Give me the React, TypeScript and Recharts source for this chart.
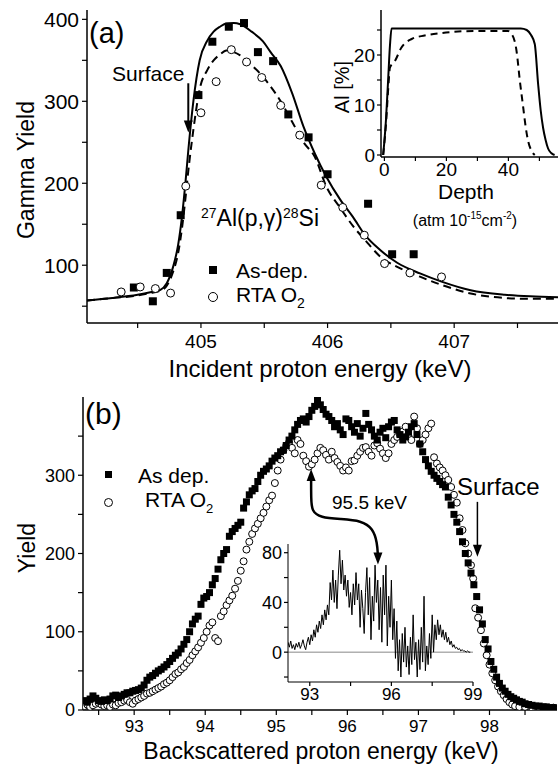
import {
  ComposedChart,
  Line,
  Scatter,
  XAxis,
  YAxis,
  ReferenceLine,
  ReferenceDot,
} from 'recharts';

const FONT = '"Liberation Sans", Arial, Helvetica, sans-serif';

// ---- (a) 27Al(p,g)28Si resonance yield ----
const fitEnergy = [404.1, 404.3, 404.5, 404.6, 404.68, 404.73, 404.78, 404.82, 404.85, 404.88, 404.9, 404.94, 404.99, 405.05, 405.1, 405.15, 405.2, 405.26, 405.31, 405.4, 405.49, 405.55, 405.63, 405.72, 405.81, 405.9, 405.99, 406.1, 406.2, 406.3, 406.42, 406.55, 406.73, 406.9, 407.13, 407.4, 407.6, 407.82];
const fitAsDep = [57, 60, 64, 67, 70, 78, 98, 125, 159, 205, 240, 300, 350, 374, 385, 391, 395, 395.5, 394, 385, 373, 360, 343, 310, 269, 236, 208, 180, 159, 136, 118, 103, 90, 80, 69.5, 64, 62, 61];
const fitRta = [57, 60, 63, 66, 69, 75, 92, 115, 145, 185, 215, 265, 315, 338, 350, 357, 362, 360, 356, 344, 330, 318, 300, 275, 250, 232, 196, 170, 148, 130, 110, 98, 86, 76, 65.5, 60, 59, 59];

const asDepPoints: [number, number][] = [
  [404.47, 72.8], [404.62, 56], [404.73, 90.6], [404.84, 161], [404.98, 307.6], [405.09, 372.7],
  [405.22, 391], [405.34, 395.5], [405.45, 360], [405.57, 349], [405.69, 284], [405.85, 256],
  [406.0, 211], [406.32, 175], [406.51, 113.4], [406.68, 113.4],
];
const rtaPoints: [number, number][] = [
  [404.37, 67.4], [404.52, 73.5], [404.64, 71.5], [404.76, 66], [404.88, 196.5], [405.0, 286],
  [405.12, 324], [405.24, 363], [405.36, 348], [405.48, 329], [405.63, 295], [405.78, 258.7],
  [405.95, 197.7], [406.12, 170.5], [406.29, 136.6], [406.45, 102], [406.65, 90.6], [406.9, 85.7],
];

// inset: Al depth profiles
const depthSolid = [-0.4, 0.5, 1.2, 1.8, 2.3, 5, 15, 25, 35, 44, 45.9, 47.3, 48.5, 49.6, 50.4, 51.2, 52, 52.8, 53.8, 54.9];
const alSolid = [0, 7, 15, 22, 25.3, 25.3, 25.3, 25.3, 25.3, 25.3, 25, 24, 22.2, 14.1, 9, 5.4, 3, 1.3, 0.4, 0];
const depthDashed = [-0.4, 0.6, 1.2, 1.8, 3.4, 5.5, 8.8, 13, 18.5, 29.2, 39.9, 41, 42, 42.6, 43.7, 44.8, 45.6, 46.4, 47.5, 48.5];
const alDashed = [0, 7, 13, 17.5, 18.8, 21.5, 23.2, 23.9, 24.4, 24.8, 24.8, 24.2, 22.8, 20.9, 14.8, 9.4, 5.5, 2.7, 0.8, 0];

// ---- (b) RBS spectra ----
const rbsAsDep: [number, number][] = [
  [92.3, 12], [92.34, 10], [92.38, 14], [92.42, 18], [92.46, 15], [92.5, 12], [92.54, 11], [92.58, 13],
  [92.62, 12], [92.66, 14], [92.7, 18], [92.74, 19], [92.78, 16], [92.82, 18], [92.86, 20], [92.9, 22],
  [92.94, 22], [92.98, 24], [93.02, 25], [93.06, 26], [93.1, 28], [93.14, 32], [93.18, 38], [93.22, 42],
  [93.26, 44], [93.3, 47], [93.34, 50], [93.38, 52], [93.42, 55], [93.46, 58], [93.5, 62], [93.54, 66],
  [93.58, 70], [93.62, 73], [93.66, 78], [93.7, 84], [93.74, 90], [93.78, 100], [93.82, 110], [93.86, 116],
  [93.9, 120], [93.94, 135], [93.98, 143], [94.02, 145], [94.06, 150], [94.1, 160], [94.14, 168], [94.18, 180],
  [94.22, 192], [94.26, 200], [94.3, 205], [94.34, 222], [94.38, 228], [94.42, 232], [94.46, 236], [94.5, 240],
  [94.54, 258], [94.58, 266], [94.62, 275], [94.66, 280], [94.7, 283], [94.74, 292], [94.78, 300], [94.82, 305],
  [94.86, 308], [94.9, 312], [94.94, 318], [94.98, 322], [95.02, 325], [95.06, 330], [95.1, 332], [95.14, 338],
  [95.18, 345], [95.22, 350], [95.26, 358], [95.3, 365], [95.34, 370], [95.38, 372], [95.42, 368], [95.46, 375],
  [95.5, 383], [95.54, 388], [95.58, 396], [95.62, 390], [95.66, 384], [95.7, 378], [95.74, 375], [95.78, 370],
  [95.82, 362], [95.86, 366], [95.9, 358], [95.94, 352], [95.98, 372], [96.02, 370], [96.06, 362], [96.1, 355],
  [96.14, 366], [96.18, 350], [96.22, 360], [96.26, 379], [96.3, 365], [96.34, 358], [96.38, 350], [96.42, 345],
  [96.46, 355], [96.5, 360], [96.54, 348], [96.58, 362], [96.62, 368], [96.66, 370], [96.7, 358], [96.74, 352],
  [96.78, 345], [96.82, 349], [96.86, 355], [96.9, 362], [96.94, 366], [96.98, 352], [97.02, 340], [97.06, 330],
  [97.1, 320], [97.14, 312], [97.18, 305], [97.22, 300], [97.26, 296], [97.3, 292], [97.34, 288], [97.38, 285],
  [97.42, 272], [97.46, 262], [97.5, 250], [97.54, 240], [97.58, 228], [97.62, 215], [97.66, 200], [97.7, 188],
  [97.74, 175], [97.78, 160], [97.82, 145], [97.86, 128], [97.9, 110], [97.94, 90], [97.98, 78], [98.02, 62],
  [98.06, 52], [98.1, 42], [98.14, 34], [98.18, 28], [98.22, 24], [98.26, 20], [98.3, 17], [98.34, 15],
  [98.38, 13], [98.42, 11], [98.46, 10], [98.5, 8], [98.55, 7], [98.6, 6], [98.65, 5], [98.7, 5],
  [98.75, 4], [98.8, 4], [98.85, 3], [98.9, 3],
];
const rbsRta: [number, number][] = [
  [92.3, 5], [92.34, 7], [92.38, 4], [92.42, 6], [92.46, 8], [92.5, 9], [92.54, 7], [92.58, 5],
  [92.62, 6], [92.66, 4], [92.7, 7], [92.74, 6], [92.78, 9], [92.82, 10], [92.86, 12], [92.9, 13],
  [92.94, 10], [92.98, 8], [93.02, 12], [93.06, 14], [93.1, 16], [93.14, 18], [93.18, 21], [93.22, 22],
  [93.26, 24], [93.3, 26], [93.34, 28], [93.38, 30], [93.42, 33], [93.46, 35], [93.5, 38], [93.54, 42],
  [93.58, 46], [93.62, 48], [93.66, 52], [93.7, 55], [93.74, 60], [93.78, 64], [93.82, 70], [93.86, 75],
  [93.9, 80], [93.94, 86], [93.98, 92], [94.02, 100], [94.06, 108], [94.1, 112], [94.14, 92], [94.18, 88],
  [94.22, 120], [94.26, 126], [94.3, 134], [94.34, 140], [94.38, 146], [94.42, 155], [94.46, 165], [94.5, 178],
  [94.54, 190], [94.58, 205], [94.62, 215], [94.66, 225], [94.7, 232], [94.74, 238], [94.78, 245], [94.82, 252],
  [94.86, 260], [94.9, 268], [94.94, 274], [94.98, 290], [95.02, 306], [95.06, 320], [95.1, 332], [95.14, 338],
  [95.18, 342], [95.22, 335], [95.26, 328], [95.3, 345], [95.34, 340], [95.38, 325], [95.42, 318], [95.46, 311],
  [95.5, 314], [95.54, 320], [95.58, 328], [95.62, 335], [95.66, 332], [95.7, 326], [95.74, 320], [95.78, 330],
  [95.82, 322], [95.86, 317], [95.9, 312], [95.94, 306], [95.98, 310], [96.02, 306], [96.06, 318], [96.1, 319],
  [96.14, 325], [96.18, 330], [96.22, 335], [96.26, 336], [96.3, 330], [96.34, 325], [96.38, 338], [96.42, 341],
  [96.46, 334], [96.5, 328], [96.54, 322], [96.58, 328], [96.62, 340], [96.66, 345], [96.7, 349], [96.74, 352],
  [96.78, 356], [96.82, 362], [96.86, 350], [96.9, 345], [96.94, 375], [96.98, 360], [97.02, 340], [97.06, 345],
  [97.1, 352], [97.14, 360], [97.18, 366], [97.22, 323], [97.26, 315], [97.3, 310], [97.34, 306], [97.38, 300],
  [97.42, 294], [97.46, 285], [97.5, 275], [97.54, 265], [97.58, 245], [97.62, 230], [97.66, 213], [97.7, 200],
  [97.74, 185], [97.77, 168], [97.8, 130], [97.84, 118], [97.88, 102], [97.92, 85], [97.96, 70], [98.0, 58],
  [98.04, 47], [98.08, 38], [98.12, 30], [98.16, 24], [98.2, 19], [98.24, 14], [98.28, 10], [98.32, 7],
  [98.36, 5], [98.42, 4], [98.5, 4], [98.6, 3], [98.7, 3], [98.8, 3], [98.9, 3],
];

// inset: difference spectrum
const diffEnergy = [
  92.2, 92.25, 92.3, 92.35, 92.4, 92.45, 92.5, 92.55, 92.6, 92.65, 92.7, 92.75, 92.8, 92.85, 92.9, 92.95,
  93.0, 93.05, 93.1, 93.15, 93.2, 93.25, 93.3, 93.35, 93.4, 93.45, 93.5, 93.55, 93.6, 93.65, 93.7, 93.75,
  93.8, 93.85, 93.9, 93.95, 94.0, 94.05, 94.1, 94.15, 94.2, 94.25, 94.3, 94.35, 94.4, 94.45, 94.5, 94.55,
  94.6, 94.65, 94.7, 94.75, 94.8, 94.85, 94.9, 94.95, 95.0, 95.05, 95.1, 95.15, 95.2, 95.25, 95.3, 95.35,
  95.4, 95.45, 95.5, 95.55, 95.6, 95.65, 95.7, 95.75, 95.8, 95.85, 95.9, 95.95, 96.0, 96.05, 96.1, 96.15,
  96.2, 96.25, 96.3, 96.35, 96.4, 96.45, 96.5, 96.55, 96.6, 96.65, 96.7, 96.75, 96.8, 96.85, 96.9, 96.95,
  97.0, 97.05, 97.1, 97.15, 97.2, 97.25, 97.3, 97.35, 97.4, 97.45, 97.5, 97.55, 97.6, 97.65, 97.7, 97.75,
  97.8, 97.85, 97.9, 97.95, 98.0, 98.05, 98.1, 98.15, 98.2, 98.25, 98.3, 98.35, 98.4, 98.45, 98.5, 98.55,
  98.6, 98.65, 98.7, 98.75, 98.8, 98.85, 98.9,
];
const diffYield = [
  8, 4, 9, 3, 6, 2, 7, 4, 8, 3, 6, 10, 5, 2, 8, 12,
  6, 14, 9, 18, 12, 22, 16, 25, 19, 30, 22, 34, 26, 38, 30, 56,
  42, 66, 40, 58, 35, 62, 82, 55, 74, 50, 62, 45, 58, 36, 48, 30,
  55, 38, 64, 42, 55, 20, 50, 35, 15, 48, 68, 30, 60, 10, 45, 25,
  70, 40, 58, 18, 52, 8, 62, 30, 70, 5, 45, 20, 58, 10, 35, -5,
  25, -15, 10, -20, 15, -8, 20, -12, 5, -18, 12, -10, 30, -6, 8, -20,
  10, -14, 20, -8, 45, -15, 5, -10, 15, -5, 30, 0, 22, 10, 26, 14,
  22, 12, 18, 10, 16, 8, 12, 6, 9, 4, 6, 3, 4, 2, 3, 1,
  2, 1, 1, 0, 1, 0, 0,
];

// annotation: curved "95.5 keV" arrow path in (b) data coordinates
const arrowPath: [number, number][] = [
  [95.49, 298], [95.49, 270], [95.5, 254], [95.62, 246], [95.9, 244], [96.2, 242], [96.36, 232], [96.42, 214], [96.43, 197],
];

const toXY = (pts: [number, number][]) => pts.map(([x, y]) => ({ x, y }));
const zip = (xs: number[], ys: number[]) => xs.map((x, i) => ({ x, y: ys[i] }));

const fitAsDepData = zip(fitEnergy, fitAsDep);
const fitRtaData = zip(fitEnergy, fitRta);
const solidProfile = zip(depthSolid, alSolid);
const dashedProfile = zip(depthDashed, alDashed);
const diffData = zip(diffEnergy, diffYield);

const squareShape = (s: number) => (p: any) => (
  <rect x={p.cx - s / 2} y={p.cy - s / 2} width={s} height={s} fill="#000" />
);
const circleShape = (r: number) => (p: any) => (
  <circle cx={p.cx} cy={p.cy} r={r} fill="#fff" stroke="#000" strokeWidth={1} />
);
const headDown = (p: any) => (
  <path d={`M${p.cx},${p.cy} l-4.5,-12 l9,0 z`} fill="#000" />
);
const headUp = (p: any) => (
  <path d={`M${p.cx},${p.cy} l-4.5,12 l9,0 z`} fill="#000" />
);

const fmt = (labels: number[]) => (v: number) => (labels.includes(v) ? String(v) : '');
const axisLine = { stroke: '#000', strokeWidth: 1.5 };
const tickLine = { stroke: '#000', strokeWidth: 1.2 };

const abs = (left: number, top: number, extra: any = {}) => ({
  position: 'absolute' as const, left, top, fontFamily: FONT, color: '#000', lineHeight: 1, whiteSpace: 'nowrap' as const, ...extra,
});

export default function App() {
  return (
    <div style={{ position: 'fixed', left: 0, top: 0, width: 559, height: 764, background: '#fff', overflow: 'hidden' }}>
      {/* panel (a) */}
      <div style={{ position: 'absolute', left: 0, top: 0 }}>
        <ComposedChart width={559} height={358} margin={{ top: 10, right: 1, bottom: 0, left: 0 }}>
          <XAxis
            dataKey="x" type="number" domain={[404.1, 407.82]} allowDataOverflow
            ticks={[404.5, 405, 405.5, 406, 406.5, 407, 407.5]} interval={0}
            tickFormatter={fmt([405, 406, 407])} height={35} tickSize={5} tickMargin={7}
            axisLine={axisLine} tickLine={tickLine}
            tick={{ fill: '#000', fontSize: 19, fontFamily: FONT }}
          />
          <XAxis xAxisId="top" orientation="top" type="number" domain={[404.1, 407.82]} height={0} tick={false} tickLine={false} axisLine={axisLine} />
          <YAxis
            type="number" domain={[29.5, 411.4]} allowDataOverflow
            ticks={[50, 100, 150, 200, 250, 300, 350, 400]} interval={0}
            tickFormatter={fmt([100, 200, 300, 400])} width={87} tickSize={5} tickMargin={3}
            axisLine={axisLine} tickLine={tickLine}
            tick={{ fill: '#000', fontSize: 21, fontFamily: FONT }}
          />
          <YAxis yAxisId="right" orientation="right" type="number" domain={[0, 1]} width={0} tick={false} tickLine={false} axisLine={axisLine} />
          <Line data={fitAsDepData} dataKey="y" type="monotone" stroke="#000" strokeWidth={2} dot={false} isAnimationActive={false} />
          <Line data={fitRtaData} dataKey="y" type="monotone" stroke="#000" strokeWidth={2} strokeDasharray="8 5" dot={false} isAnimationActive={false} />
          <Scatter data={toXY(asDepPoints)} dataKey="y" shape={squareShape(8)} isAnimationActive={false} />
          <Scatter data={toXY(rtaPoints)} dataKey="y" shape={circleShape(4)} isAnimationActive={false} />
          <ReferenceLine segment={[{ x: 404.9, y: 322 }, { x: 404.9, y: 272 }]} stroke="#000" strokeWidth={2} />
          <ReferenceDot x={404.9} y={262} r={0} shape={headDown} />
        </ComposedChart>
      </div>

      {/* panel (a) inset */}
      <div style={{ position: 'absolute', left: 340, top: 0 }}>
        <ComposedChart width={219} height={200} margin={{ top: 10, right: 1, bottom: 0, left: 0 }}>
          <XAxis
            dataKey="x" type="number" domain={[-1.1, 56]} allowDataOverflow
            ticks={[0, 10, 20, 30, 40, 50]} interval={0} tickFormatter={fmt([0, 20, 40])}
            height={43} tickSize={4} tickMargin={2} axisLine={axisLine} tickLine={tickLine}
            tick={{ fill: '#000', fontSize: 19, fontFamily: FONT }}
          />
          <YAxis
            type="number" domain={[-0.4, 29]} allowDataOverflow
            ticks={[0, 5, 10, 15, 20, 25]} interval={0} tickFormatter={fmt([0, 10, 20])}
            width={41} tickSize={4} tickMargin={2} axisLine={axisLine} tickLine={tickLine}
            tick={{ fill: '#000', fontSize: 19, fontFamily: FONT }}
          />
          <Line data={solidProfile} dataKey="y" type="monotone" stroke="#000" strokeWidth={2} dot={false} isAnimationActive={false} />
          <Line data={dashedProfile} dataKey="y" type="monotone" stroke="#000" strokeWidth={2} strokeDasharray="7 5" dot={false} isAnimationActive={false} />
        </ComposedChart>
      </div>

      {/* panel (b) */}
      <div style={{ position: 'absolute', left: 0, top: 380 }}>
        <ComposedChart width={559} height={360} margin={{ top: 17, right: 2, bottom: 0, left: 0 }}>
          <XAxis
            dataKey="x" type="number" domain={[92.28, 98.95]} allowDataOverflow
            ticks={[92.5, 93, 93.5, 94, 94.5, 95, 95.5, 96, 96.5, 97, 97.5, 98, 98.5]} interval={0}
            tickFormatter={fmt([93, 94, 95, 96, 97, 98])} height={30} tickSize={5} tickMargin={5}
            axisLine={axisLine} tickLine={tickLine}
            tick={{ fill: '#000', fontSize: 17, fontFamily: FONT }}
          />
          <XAxis xAxisId="top" orientation="top" type="number" domain={[92.28, 98.95]} height={0} tick={false} tickLine={false} axisLine={axisLine} />
          <YAxis
            type="number" domain={[0, 400]} allowDataOverflow
            ticks={[0, 50, 100, 150, 200, 250, 300, 350]} interval={0}
            tickFormatter={fmt([0, 100, 200, 300])} width={83} tickSize={5} tickMargin={3}
            axisLine={axisLine} tickLine={tickLine}
            tick={{ fill: '#000', fontSize: 18, fontFamily: FONT }}
          />
          <YAxis yAxisId="right" orientation="right" type="number" domain={[0, 1]} width={0} tick={false} tickLine={false} axisLine={axisLine} />
          <Scatter data={toXY(rbsRta)} dataKey="y" shape={circleShape(3.5)} isAnimationActive={false} />
          <Scatter data={toXY(rbsAsDep)} dataKey="y" shape={squareShape(7)} isAnimationActive={false} />
          <Line data={toXY(arrowPath)} dataKey="y" type="basis" stroke="#000" strokeWidth={2.5} dot={false} isAnimationActive={false} />
          <ReferenceDot x={95.49} y={308} r={0} shape={headUp} />
          <ReferenceDot x={96.43} y={186} r={0} shape={headDown} />
          <ReferenceLine segment={[{ x: 97.83, y: 266 }, { x: 97.83, y: 208 }]} stroke="#000" strokeWidth={1.5} />
          <ReferenceDot x={97.83} y={196} r={0} shape={headDown} />
        </ComposedChart>
      </div>

      {/* panel (b) inset */}
      <div style={{ position: 'absolute', left: 240, top: 530 }}>
        <ComposedChart width={255} height={180} margin={{ top: 14, right: 22, bottom: 0, left: 0 }}>
          <XAxis
            dataKey="x" type="number" domain={[92.2, 99]} allowDataOverflow
            ticks={[93, 94.5, 96, 97.5, 99]} interval={0} tickFormatter={fmt([93, 96, 99])}
            height={28} tickSize={4} tickMargin={2} axisLine={{ stroke: '#000', strokeWidth: 1 }} tickLine={tickLine}
            tick={{ fill: '#000', fontSize: 17, fontFamily: FONT }}
          />
          <YAxis
            type="number" domain={[-24, 87]} allowDataOverflow
            ticks={[-20, 0, 20, 40, 60, 80]} interval={0} tickFormatter={fmt([0, 40, 80])}
            width={48} tickSize={4} tickMargin={2} axisLine={{ stroke: '#000', strokeWidth: 1 }} tickLine={tickLine}
            tick={{ fill: '#000', fontSize: 18, fontFamily: FONT }}
          />
          <ReferenceLine y={0} stroke="#888" strokeWidth={1} />
          <Line data={diffData} dataKey="y" type="linear" stroke="#000" strokeWidth={1} dot={false} isAnimationActive={false} />
        </ComposedChart>
      </div>

      {/* texts (a) */}
      <div style={abs(89, 19, { fontSize: 29 })}>(a)</div>
      <div style={abs(112, 63, { fontSize: 21 })}>Surface</div>
      <div style={abs(26, 170, { fontSize: 23, transform: 'translate(-50%,-50%) rotate(-90deg)' })}>Gamma Yield</div>
      <div style={abs(320, 369, { fontSize: 24, transform: 'translate(-50%,-50%)' })}>Incident proton energy (keV)</div>
      <div style={abs(260, 218, { fontSize: 23, transform: 'translate(-50%,-50%)' })}>
        <sup style={{ fontSize: 14 }}>27</sup>Al(p,γ)<sup style={{ fontSize: 14 }}>28</sup>Si
      </div>
      <div style={abs(209, 266, { width: 8, height: 8, background: '#000' })} />
      <div style={abs(236, 270, { fontSize: 21, transform: 'translateY(-50%)' })}>As-dep.</div>
      <div style={abs(208, 292, { width: 8, height: 8, border: '1px solid #000', borderRadius: '50%' })} />
      <div style={abs(236, 297, { fontSize: 21, transform: 'translateY(-50%)' })}>
        RTA O<sub style={{ fontSize: 14 }}>2</sub>
      </div>
      <div style={abs(342, 87, { fontSize: 20, transform: 'translate(-50%,-50%) rotate(-90deg)' })}>Al [%]</div>
      <div style={abs(466, 191, { fontSize: 21, transform: 'translate(-50%,-50%)' })}>Depth</div>
      <div style={abs(465, 220, { fontSize: 16, transform: 'translate(-50%,-50%)' })}>
        (atm 10<sup style={{ fontSize: 10 }}>-15</sup>cm<sup style={{ fontSize: 10 }}>-2</sup>)
      </div>

      {/* texts (b) */}
      <div style={abs(85, 399, { fontSize: 30 })}>(b)</div>
      <div style={abs(105, 471, { width: 7, height: 7, background: '#000' })} />
      <div style={abs(138, 475, { fontSize: 21, transform: 'translateY(-50%)' })}>As dep.</div>
      <div style={abs(104, 498, { width: 7, height: 7, border: '1px solid #000', borderRadius: '50%' })} />
      <div style={abs(145, 502, { fontSize: 21, transform: 'translateY(-50%)' })}>
        RTA O<sub style={{ fontSize: 13 }}>2</sub>
      </div>
      <div style={abs(457, 487, { fontSize: 24, transform: 'translateY(-50%)' })}>Surface</div>
      <div style={abs(332, 502, { fontSize: 19, transform: 'translateY(-50%)' })}>95.5 keV</div>
      <div style={abs(27, 548, { fontSize: 23, transform: 'translate(-50%,-50%) rotate(-90deg)' })}>Yield</div>
      <div style={abs(321, 751, { fontSize: 23, transform: 'translate(-50%,-50%)' })}>Backscattered proton energy (keV)</div>
    </div>
  );
}
